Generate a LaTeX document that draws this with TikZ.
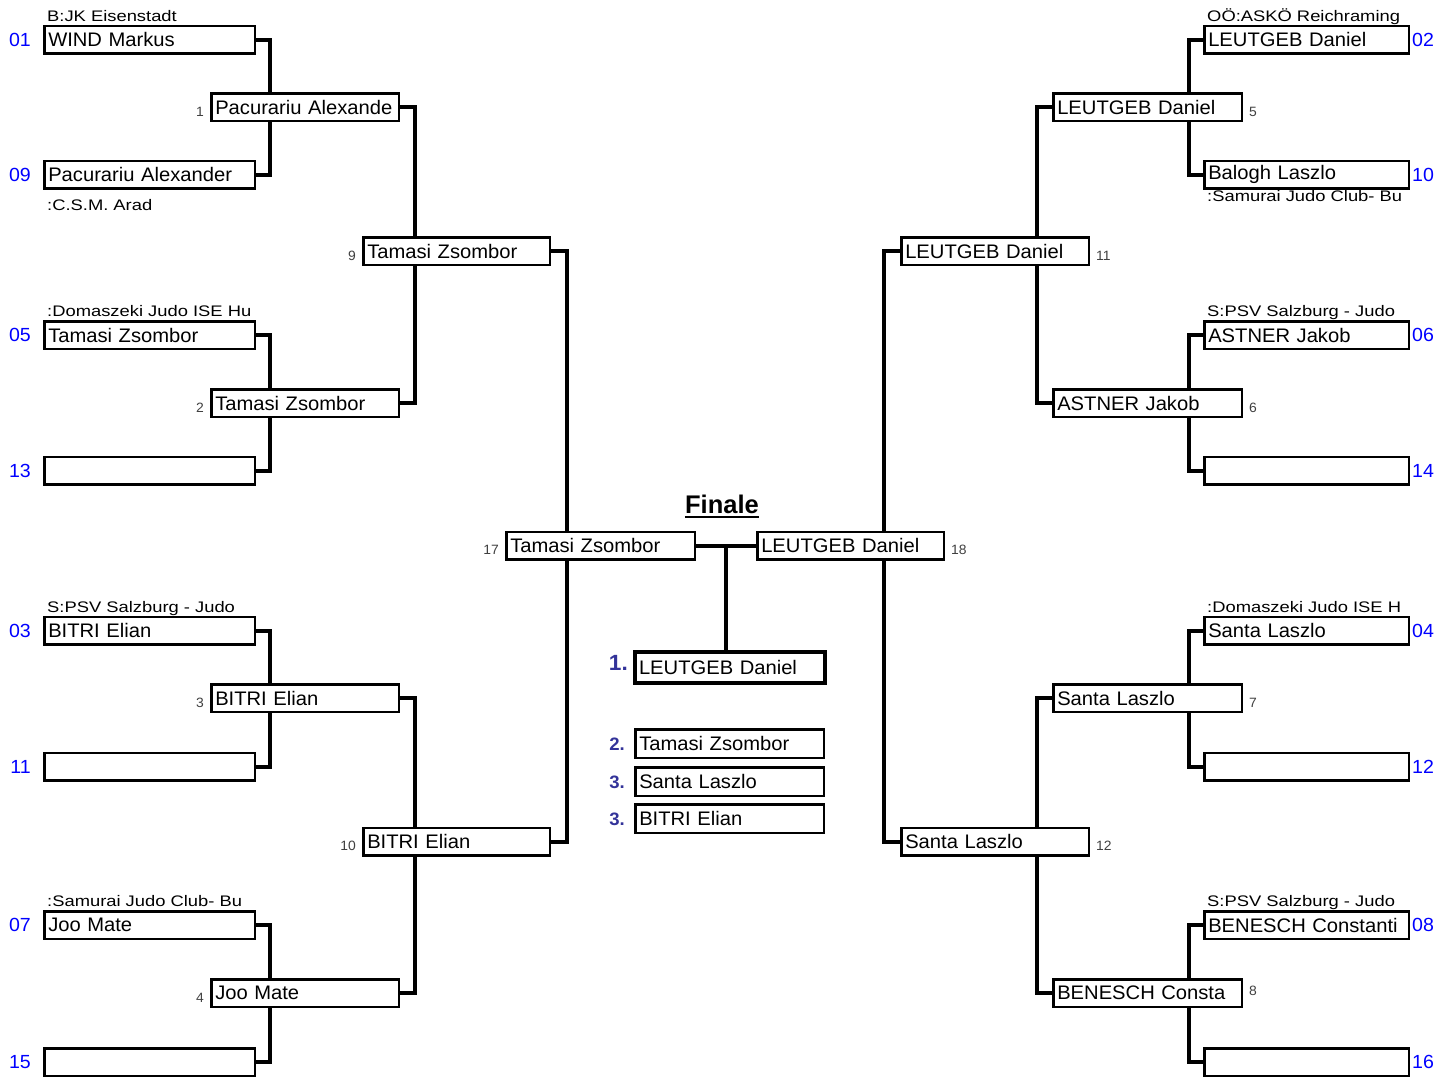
\documentclass[tikz,border=0pt]{standalone}
\usepackage{fontspec}
\setmainfont{Liberation Sans}
\newfontfamily\namefont[FakeStretch=1.03]{Liberation Sans}
\newfontfamily\clubfont[FakeStretch=1.2]{Liberation Sans}
\usetikzlibrary{positioning,backgrounds}
\definecolor{seedblue}{RGB}{0,0,255}
\definecolor{placeblue}{RGB}{51,51,153}
\definecolor{matchgray}{RGB}{64,64,64}
\tikzset{
    namebox/.style={draw=black, line width=2.5pt, fill=white, text width=#1,
        inner xsep=4pt, inner ysep=0pt, minimum height=27.5pt, align=left,
        font=\namefont\fontsize{19.6}{21}\selectfont},
    winnerbox/.style={namebox=#1, line width=4pt, minimum height=31pt},
    placebox/.style={namebox=#1, minimum height=28.5pt},
    bracket/.style={draw=black, line width=4pt, line join=miter},
    seedno/.style={text=seedblue, inner sep=0pt, font=\namefont\fontsize{19}{20}\selectfont},
    matchno/.style={text=matchgray, inner sep=0pt, font=\namefont\fontsize{13.5}{14}\selectfont},
    clubname/.style={inner sep=0pt, anchor=base west, font=\clubfont\fontsize{15.3}{16}\selectfont},
    placeno/.style={text=placeblue, inner sep=0pt, anchor=east, font=\namefont\bfseries\fontsize{18}{19}\selectfont},
}

\begin{document}
\begin{tikzpicture}[x=1pt, y=-1pt]
	\useasboundingbox (0,0) rectangle (1450,1079);
	% first round, left
	\foreach \s/\y/\n in {01/39.5/WIND Markus, 09/174.5/Pacurariu Alexander,
	        05/335/Tamasi Zsombor, 13/470.5/, 03/630.5/BITRI Elian,
	        11/766.5/, 07/925/Joo Mate, 15/1062/}{
		\node[namebox=202.5pt] (w\s) at (149.5,\y) {\n};
		\node[seedno, anchor=east] (s\s) at ([xshift=-12pt]w\s.west) {\s};
	}
	% first round, right
	\foreach \s/\y/\n in {02/39.5/LEUTGEB Daniel, 10/174.5/Balogh Laszlo,
	        06/335/ASTNER Jakob, 14/470.5/, 04/630.5/Santa Laszlo,
	        12/766.5/, 08/925/BENESCH~Constanti, 16/1062/}{
		\node[namebox=196.5pt] (w\s) at (1306.5,\y) {\n};
		\node[seedno, anchor=west] (s\s) at ([xshift=2pt]w\s.east) {\s};
	}
	% second round
	\node[namebox=179.5pt] (m1) at (305,107) {Pacurariu~Alexande};
	\node[namebox=179.5pt] (m2) at (305,403) {Tamasi Zsombor};
	\node[namebox=179.5pt] (m3) at (305,698) {BITRI Elian};
	\node[namebox=179.5pt] (m4) at (305,993) {Joo Mate};
	\node[namebox=180.5pt] (m5) at (1147.5,107) {LEUTGEB Daniel};
	\node[namebox=180.5pt] (m6) at (1147.5,403) {ASTNER Jakob};
	\node[namebox=180.5pt] (m7) at (1147.5,698) {Santa Laszlo};
	\node[namebox=180.5pt] (m8) at (1147.5,993) {BENESCH~Consta};
	% third round
	\node[namebox=178.5pt] (m9) at (456.5,251) {Tamasi Zsombor};
	\node[namebox=178.5pt] (m10) at (456.5,841.5) {BITRI Elian};
	\node[namebox=179.5pt] (m11) at (995,251) {LEUTGEB Daniel};
	\node[namebox=179.5pt] (m12) at (995,841.5) {Santa Laszlo};
	% final
	\node[namebox=180.5pt] (m17) at (600.5,545.5) {Tamasi Zsombor};
	\node[namebox=178.5pt] (m18) at (850.5,545.5) {LEUTGEB Daniel};
	\node[font=\bfseries\fontsize{25.5}{26}\selectfont, inner sep=0pt, anchor=base] (fin) at (722,513) {Finale};
	\draw[line width=2pt] ([yshift=-3.5pt]fin.base west) -- ([yshift=-3.5pt]fin.base east);
	% places
	\node[winnerbox=182pt] (p1) at (730,667.5) {LEUTGEB Daniel};
	\node[placebox=180.5pt] (p2) at (729.5,743.5) {Tamasi Zsombor};
	\node[placebox=180.5pt] (p3) at (729.5,781.5) {Santa Laszlo};
	\node[placebox=180.5pt] (p4) at (729.5,818.5) {BITRI Elian};
	\node[placeno, font=\namefont\bfseries\fontsize{22}{23}\selectfont] (n1) at ([xshift=-5pt, yshift=4.5pt]p1.west) {1.};
	\node[placeno] (n2) at ([xshift=-9pt, yshift=-0.5pt]p2.west) {2.};
	\node[placeno] (n3) at ([xshift=-9pt, yshift=-0.5pt]p3.west) {3.};
	\node[placeno] (n4) at ([xshift=-9pt, yshift=-0.5pt]p4.west) {3.};
	% match numbers
	\foreach \m in {1,2,3,4,9,10,17}
		\node[matchno, anchor=east] (k\m) at ([xshift=-6pt, yshift=-4.5pt]m\m.west) {\m};
	\foreach \m in {5,6,7,11,12,18}
		\node[matchno, anchor=west] (k\m) at ([xshift=6pt, yshift=-4.5pt]m\m.east) {\m};
	\node[matchno, anchor=west] (k8) at ([xshift=6pt, yshift=2pt]m8.east) {8};
	% clubs
	\node[clubname] (c01) at ([xshift=4pt, yshift=3.5pt]w01.north west) {B:JK Eisenstadt};
	\node[clubname] (c09) at ([xshift=4pt, yshift=-20.5pt]w09.south west) {:C.S.M. Arad};
	\node[clubname] (c05) at ([xshift=4pt, yshift=3.5pt]w05.north west) {:Domaszeki Judo ISE Hu};
	\node[clubname] (c03) at ([xshift=4pt, yshift=3.5pt]w03.north west) {S:PSV Salzburg - Judo};
	\node[clubname] (c07) at ([xshift=4pt, yshift=3.5pt]w07.north west) {:Samurai Judo Club- Bu};
	\node[clubname] (c02) at ([xshift=4pt, yshift=3.5pt]w02.north west) {OÖ:ASKÖ Reichraming};
	\node[clubname] (c06) at ([xshift=4pt, yshift=3.5pt]w06.north west) {S:PSV Salzburg - Judo};
	\node[clubname] (c04) at ([xshift=4pt, yshift=3.5pt]w04.north west) {:Domaszeki Judo ISE H};
	\node[clubname] (c08) at ([xshift=4pt, yshift=3.5pt]w08.north west) {S:PSV Salzburg - Judo};

	\begin{pgfonlayer}{background}
		\node[clubname] (c10) at ([xshift=4pt, yshift=-11.5pt]w10.south west) {:Samurai Judo Club- Bu};
		% left half
		\draw[bracket] (w01.east) -- ++(14,0) |- (w09.east);
		\draw[bracket] (w05.east) -- ++(14,0) |- (w13.east);
		\draw[bracket] (w03.east) -- ++(14,0) |- (w11.east);
		\draw[bracket] (w07.east) -- ++(14,0) |- (w15.east);
		\draw[bracket] (m1.east) -- ++(15,0) |- (m2.east);
		\draw[bracket] (m3.east) -- ++(15,0) |- (m4.east);
		\draw[bracket] (m9.east) -- ++(16,0) |- (m10.east);
		% right half
		\draw[bracket] (w02.west) -- ++(-14,0) |- (w10.west);
		\draw[bracket] (w06.west) -- ++(-14,0) |- (w14.west);
		\draw[bracket] (w04.west) -- ++(-14,0) |- (w12.west);
		\draw[bracket] (w08.west) -- ++(-14,0) |- (w16.west);
		\draw[bracket] (m5.west) -- ++(-15,0) |- (m6.west);
		\draw[bracket] (m7.west) -- ++(-15,0) |- (m8.west);
		\draw[bracket] (m11.west) -- ++(-16,0) |- (m12.west);
		% final
		\draw[bracket] (m17.east) -- (m18.west);
		\draw[bracket] ([xshift=-4pt]p1.north) -- ([xshift=-4pt]p1.north |- m17.east);
	\end{pgfonlayer}
\end{tikzpicture}
\end{document}
